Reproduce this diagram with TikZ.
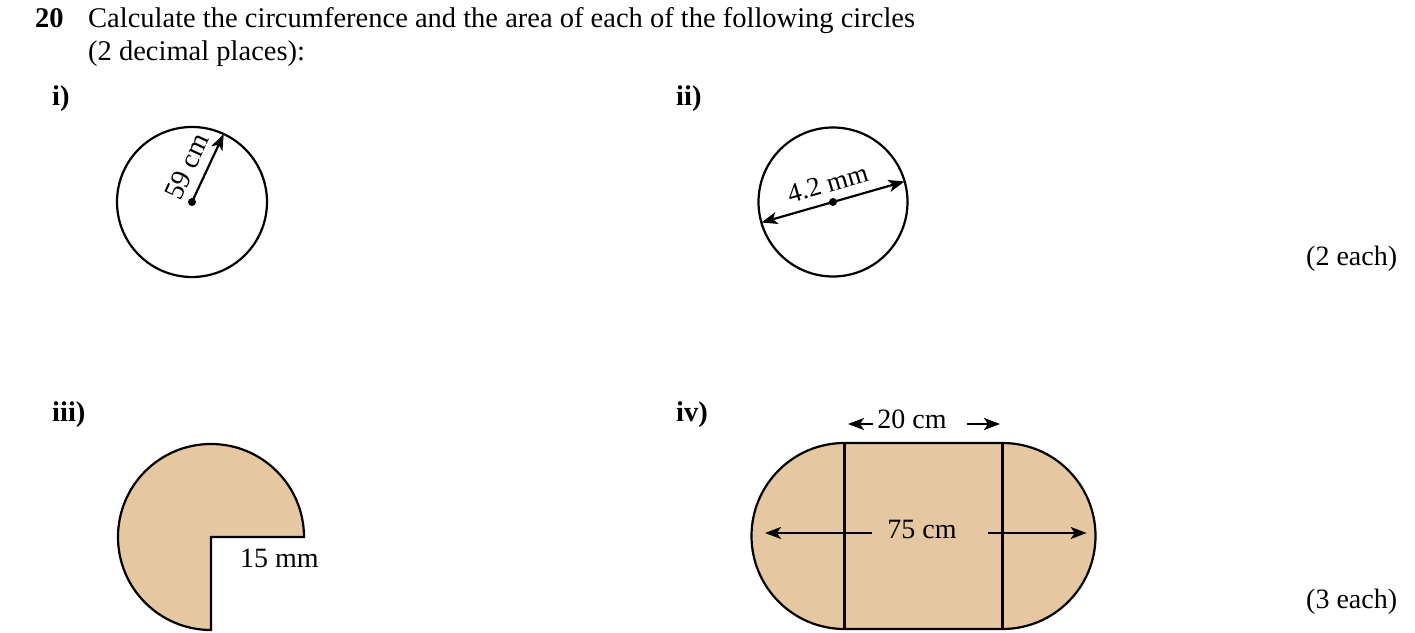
\documentclass[tikz,border=0pt]{standalone}
\usepackage{fontspec}
\setmainfont{Liberation Serif}
\usetikzlibrary{arrows.meta,calc}
\definecolor{tan}{HTML}{E5C7A2}
\tikzset{
  txt/.style={font=\fontsize{28}{31}\selectfont, inner sep=0pt},
  ttl/.style={font=\fontsize{28.5}{31}\selectfont, inner sep=0pt},
  lbl/.style={font=\fontsize{28.5}{31}\selectfont\bfseries, inner sep=0pt},
  outline/.style={line width=2.2pt, draw=black},
  arr/.style={line width=2.2pt, -{Stealth[length=16pt,width=12pt,inset=4pt]}},
  darr/.style={line width=2.2pt, {Stealth[length=16pt,width=12pt,inset=4pt]}-{Stealth[length=16pt,width=12pt,inset=4pt]}},
  dot/.style={circle, fill=black, inner sep=0pt, minimum size=8pt}
}
\begin{document}
\begin{tikzpicture}[x=1pt,y=1pt]
\useasboundingbox (0,0) rectangle (1415,632);
% title
\node[lbl, anchor=base west] (qnum) at (35,604) {20};
\node[ttl, anchor=base west] (q1) at (88,604) {Calculate the circumference and the area of each of the following circles};
\node[ttl, anchor=base west] (q2) at (88,571) {(2 decimal places):};
% part labels
\node[lbl, anchor=base west] (li) at (52,526) {i)};
\node[lbl, anchor=base west] (lii) at (676,526) {ii)};
\node[lbl, anchor=base west] (liii) at (52,210) {iii)};
\node[lbl, anchor=base west] (liv) at (676,210) {iv)};
% marks
\node[txt, anchor=base west] (m2) at (1306,366) {(2 each)};
\node[txt, anchor=base west] (m3) at (1306,24) {(3 each)};
% circle i
\coordinate (c1) at (192,430);
\draw[outline] (c1) circle[radius=75];
\node[dot] (d1) at (c1) {};
\coordinate (t1) at ($(c1)+(65:75)$);
\draw[arr] (c1) -- (t1) node[txt, pos=0.4, sloped, above=9pt] (r1) {59 cm};
% circle ii
\coordinate (c2) at (833,430);
\draw[outline] (c2) circle[radius=74.5];
\coordinate (a2) at ($(c2)+(196:74.5)$);
\coordinate (b2) at ($(c2)+(16:74.5)$);
\draw[darr] (a2) -- (b2) node[txt, pos=0.5, sloped, above=9pt, font=\fontsize{27}{30}\selectfont] (r2) {4.2 mm};
\node[dot] (d2) at (c2) {};
% shape iii
\coordinate (c3) at (211,95);
\draw[outline, fill=tan] (c3) -- ++(93,0) arc[start angle=0, end angle=270, radius=93] -- cycle;
\node[txt, anchor=base west] (r3) at (240,65) {15 mm};
% shape iv
\coordinate (tl) at (844.5,189);
\coordinate (tr) at (1002.5,189);
\coordinate (bl) at (844.5,3);
\coordinate (br) at (1002.5,3);
\draw[outline, fill=tan] (tl) -- (tr) arc[start angle=90, end angle=-90, radius=93] -- (bl) arc[start angle=270, end angle=90, radius=93] -- cycle;
\draw[line width=3.2pt] (tl) -- (bl);
\draw[line width=3.2pt] (tr) -- (br);
\node[txt, anchor=base] (d75) at (922,94) {75 cm};
\coordinate (l75a) at (871.7,99);
\coordinate (l75b) at (765,99);
\coordinate (r75a) at (988,99);
\coordinate (r75b) at (1086.7,99);
\draw[arr] (l75a) -- (l75b);
\draw[arr] (r75a) -- (r75b);
\node[txt, anchor=base] (d20) at (912,203) {20 cm};
\coordinate (l20a) at (873,208);
\coordinate (l20b) at (848,208);
\coordinate (r20a) at (967,208);
\coordinate (r20b) at (1000,208);
\draw[arr] (l20a) -- (l20b);
\draw[arr] (r20a) -- (r20b);
\end{tikzpicture}
\end{document}
